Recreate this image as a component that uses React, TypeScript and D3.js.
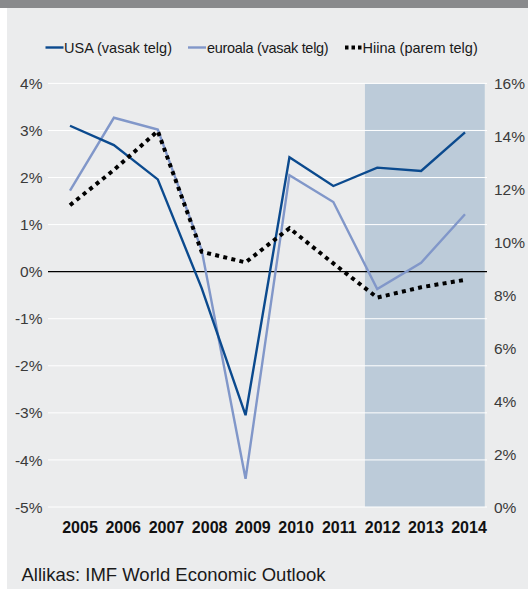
import React from "react";
import * as d3 from "d3";

const years = [2005, 2006, 2007, 2008, 2009, 2010, 2011, 2012, 2013, 2014];
const usa = [3.1, 2.69, 1.96, -0.35, -3.05, 2.43, 1.82, 2.21, 2.14, 2.96];
const euro = [1.72, 3.27, 3.02, 0.46, -4.4, 2.05, 1.48, -0.37, 0.19, 1.22];
const china = [11.4, 12.73, 14.2, 9.64, 9.24, 10.53, 9.2, 7.91, 8.3, 8.58];
const leftTicks = [4, 3, 2, 1, 0, -1, -2, -3, -4, -5];
const rightTicks = [16, 14, 12, 10, 8, 6, 4, 2, 0];
const shadeYears = [2012, 2014];
const legendItems = ["USA (vasak  telg)", "euroala (vasak telg)", "Hiina (parem telg)"];
const source = "Allikas: IMF World Economic Outlook";

const W = 528;
const H = 589;
const FONT = "'Liberation Sans', Arial, Helvetica, sans-serif";

export default function App() {
  const x = d3.scalePoint<number>().domain(years).range([70, 465]);
  const step = x.step();
  const xLab = d3.scalePoint<number>().domain(years).range([80, 469]);
  const yL = d3.scaleLinear().domain([-5, 4]).range([507, 83.4]);
  const yR = d3.scaleLinear().domain([0, 16]).range([507, 83.4]);
  const plotL = 48;
  const plotR = 487;

  const lineL = d3
    .line<number>()
    .x((_, i) => x(years[i])!)
    .y((d) => yL(d));
  const lineR = d3
    .line<number>()
    .x((_, i) => x(years[i])!)
    .y((d) => yR(d));

  const shadeX0 = x(shadeYears[0])! - 0.28 * step;
  const shadeX1 = x(shadeYears[1])! + 0.45 * step;

  return (
    <svg
      width={W}
      height={H}
      style={{ position: "absolute", left: 0, top: 0, display: "block" }}
      fontFamily={FONT}
    >
      <rect x={0} y={0} width={W} height={H} fill="#ffffff" />
      <rect x={7} y={8} width={W - 7} height={H - 8} fill="#ebeced" />
      <rect x={0} y={0} width={W} height={8} fill="#898a8c" />

      {/* shaded forecast region */}
      <rect
        x={shadeX0}
        y={yR(16)}
        width={shadeX1 - shadeX0}
        height={yR(0) - yR(16)}
        fill="#bccbd9"
      />

      {/* gridlines */}
      {leftTicks.map((t) => (
        <line
          key={"g" + t}
          x1={plotL}
          x2={plotR}
          y1={yL(t)}
          y2={yL(t)}
          stroke={t === 0 ? "#000000" : "#ffffff"}
          strokeWidth={t === 0 ? 1.3 : 1}
        />
      ))}

      {/* left axis labels */}
      {leftTicks.map((t) => (
        <text
          key={"l" + t}
          x={42.5}
          y={yL(t)}
          dy="0.36em"
          textAnchor="end"
          fontSize={15.5}
          fill="#3a3a3a"
        >
          {t + "%"}
        </text>
      ))}

      {/* right axis labels */}
      {rightTicks.map((t) => (
        <text
          key={"r" + t}
          x={494}
          y={yR(t)}
          dy="0.36em"
          textAnchor="start"
          fontSize={15.5}
          fill="#3a3a3a"
        >
          {t + "%"}
        </text>
      ))}

      {/* year labels */}
      {years.map((yr) => (
        <text
          key={"y" + yr}
          x={xLab(yr)}
          y={533.3}
          textAnchor="middle"
          fontSize={16}
          fontWeight="bold"
          fill="#111111"
        >
          {yr}
        </text>
      ))}

      {/* series */}
      <path d={lineL(euro)!} fill="none" stroke="#8197c9" strokeWidth={2.4} strokeLinejoin="miter" />
      <path d={lineL(usa)!} fill="none" stroke="#0b4a8e" strokeWidth={2.4} strokeLinejoin="miter" />
      <path
        d={lineR(china)!}
        fill="none"
        stroke="#000000"
        strokeWidth={4}
        strokeDasharray="4,4.3"
      />

      {/* legend */}
      <line x1={45.5} x2={63.5} y1={47.5} y2={47.5} stroke="#0b4a8e" strokeWidth={2.4} />
      <text x={64} y={52.5} fontSize={14.5} fill="#1a1a1a">
        {legendItems[0]}
      </text>
      <line x1={188} x2={206} y1={47.5} y2={47.5} stroke="#8197c9" strokeWidth={2.4} />
      <text x={207} y={52.5} fontSize={14.5} fill="#1a1a1a" letterSpacing={-0.3}>
        {legendItems[1]}
      </text>
      <line x1={345} x2={362} y1={47.5} y2={47.5} stroke="#000000" strokeWidth={4} strokeDasharray="3.5,3" />
      <text x={362.5} y={52.5} fontSize={14.5} fill="#1a1a1a">
        {legendItems[2]}
      </text>

      {/* source */}
      <text x={21.5} y={580.7} fontSize={18.5} fill="#1a1a1a">
        {source}
      </text>
    </svg>
  );
}
